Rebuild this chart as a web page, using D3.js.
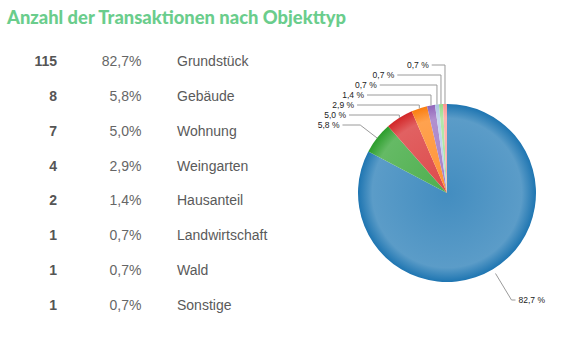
<!DOCTYPE html>
<html><head><meta charset="utf-8">
<script src="https://cdn.jsdelivr.net/npm/d3@7"></script>
<style>html,body{margin:0;padding:0;background:#fff;}svg{display:block;}</style>
</head><body>
<svg id="chart" width="564" height="341"></svg>
<script>
const title = "Anzahl der Transaktionen nach Objekttyp";
const categories = ["Grundstück","Gebäude","Wohnung","Weingarten","Hausanteil","Landwirtschaft","Wald","Sonstige"];
const counts = [115,8,7,4,2,1,1,1];
const colors = ["#1f77b4","#2ca02c","#d62728","#ff7f0e","#9467bd","#aec7e8","#98df8a","#ff9896"];

const svg = d3.select("#chart");
const total = d3.sum(counts);
const pct = v => d3.format(".1f")(v / total * 100).replace(".", ",");

// Title
svg.append("text").attr("x", 7).attr("y", 23.5)
  .attr("font-family", "Lato, 'Open Sans', sans-serif").attr("font-weight", 900)
  .attr("font-size", 19).attr("fill", "#6acd8c")
  .attr("textLength", 339).attr("lengthAdjust", "spacingAndGlyphs")
  .text(title);

// Table
const rowY = d3.scalePoint().domain(d3.range(categories.length)).range([66, 310]);
const tbl = svg.append("g").attr("font-family", "'Liberation Sans', Arial, sans-serif").attr("font-size", 14);
categories.forEach((c, i) => {
  const y = rowY(i);
  tbl.append("text").attr("x", 57).attr("y", y).attr("text-anchor", "end")
    .attr("font-weight", 700).attr("fill", "#555").text(counts[i]);
  tbl.append("text").attr("x", 141.5).attr("y", y).attr("text-anchor", "end")
    .attr("fill", "#666").text(pct(counts[i]) + "%");
  tbl.append("text").attr("x", 177).attr("y", y).attr("fill", "#5a5a5a").text(c);
});

// Pie
const cx = 447, cy = 193, r = 89;
const pie = d3.pie().sort(null).value(d => d);
const arcs = pie(counts);
const arc = d3.arc().innerRadius(0).outerRadius(r);
const defs = svg.append("defs");
colors.forEach((col, i) => {
  const g = defs.append("radialGradient").attr("id", "g" + i)
    .attr("gradientUnits", "userSpaceOnUse").attr("cx", 0).attr("cy", 0).attr("r", r);
  const mixW = t => d3.interpolateRgb(col, "#ffffff")(t);
  g.append("stop").attr("offset", "0%").attr("stop-color", mixW(0.16));
  g.append("stop").attr("offset", "84%").attr("stop-color", mixW(0.27));
  g.append("stop").attr("offset", "100%").attr("stop-color", d3.color(col).darker(0.05));
});
const pg = svg.append("g").attr("transform", `translate(${cx},${cy})`);
pg.selectAll("path").data(arcs).join("path")
  .attr("d", arc)
  .attr("fill", (d, i) => `url(#g${i})`)
  .attr("stroke", "none");

// Labels
const lg = svg.append("g").attr("font-family", "'Liberation Sans', Arial, sans-serif").attr("font-size", 8.5).attr("fill", "#222");
const lineColor = "#9a9a9a";
const mid = d => (d.startAngle + d.endAngle) / 2;
// left-side labels, stacked from the top (smallest slice at top)
const left = arcs.slice(1).reverse();
const ea = r + 34, eb = r + 40;
left.forEach((d, k) => {
  const a = mid(d);
  const px = cx + r * Math.sin(a), py = cy - r * Math.cos(a);
  const y = cy - r - 39 + k * 10;
  const dy = cy - y;
  const lx = cx - ea * Math.sqrt(Math.max(0, 1 - (dy / eb) ** 2));
  let bx = px;
  if (Math.abs(Math.sin(a)) > 0.6 && py > y) bx = px - (py - y) * 1.3;
  lg.append("polyline")
    .attr("points", `${lx},${y} ${bx},${y} ${px},${py}`)
    .attr("fill", "none").attr("stroke", lineColor).attr("stroke-width", 1);
  lg.append("text").attr("x", lx - 3).attr("y", y + 3).attr("text-anchor", "end")
    .text(pct(d.value) + " %");
});
// right-side label (largest slice)
{
  const d = arcs[0], a = mid(d);
  const s = Math.sin(a), c = -Math.cos(a);
  const x0 = cx + (r + 5) * s, y0 = cy + (r + 5) * c;
  const ly = 300;
  const R = (ly - cy) / c;
  const x1 = cx + R * s;
  lg.append("polyline")
    .attr("points", `${x0},${y0} ${x1},${ly} ${x1 + 4},${ly}`)
    .attr("fill", "none").attr("stroke", lineColor).attr("stroke-width", 1);
  lg.append("text").attr("x", x1 + 7).attr("y", ly + 3).text(pct(d.value) + " %");
}
</script>
</body></html>
